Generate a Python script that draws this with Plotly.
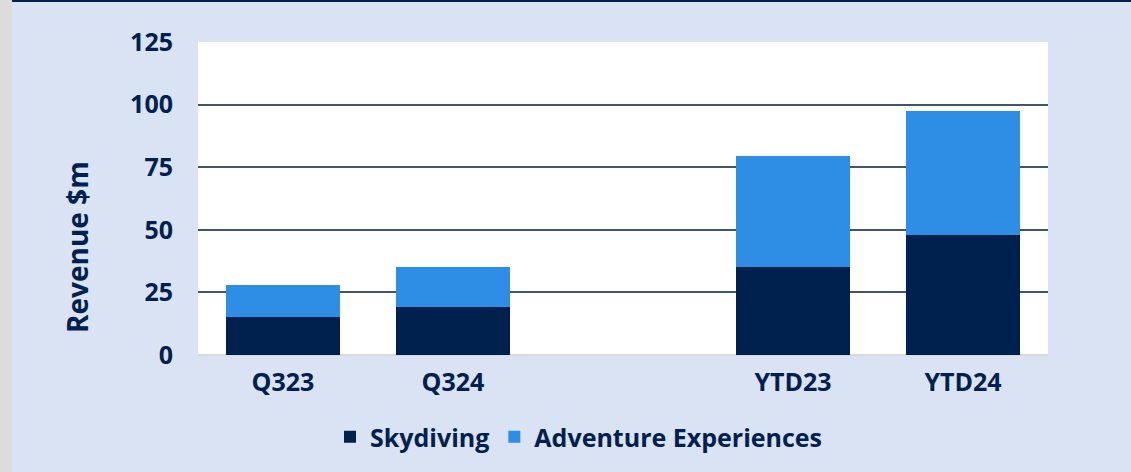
import plotly.graph_objects as go

categories = ["Q323", "Q324", " ", "YTD23", "YTD24"]
skydiving = [15, 19, None, 35, 48]
adventure = [13, 16, None, 44.5, 49.4]
y_ticks = [0, 25, 50, 75, 100, 125]

NAVY = "#00204e"
BLUE = "#2e8de4"
BG = "#dae3f3"
FONT = "Open Sans"
FS = 25

W, H = 1131, 472
ML, MR, MT, MB = 198, 83, 42, 117
PW, PH = W - ML - MR, H - MT - MB

fig = go.Figure()
fig.add_trace(go.Bar(x=categories, y=skydiving, name="Skydiving",
                     marker=dict(color=NAVY, line=dict(width=0))))
fig.add_trace(go.Bar(x=categories, y=adventure, name="Adventure Experiences",
                     marker=dict(color=BLUE, line=dict(width=0))))

def px_x(p):
    return (p - ML) / PW

def px_y(p):
    return (H - MB - p) / PH

tf = dict(family=FONT, size=FS, color=NAVY, weight=700)

fig.update_layout(
    width=W, height=H,
    barmode="stack", bargap=0.335,
    paper_bgcolor=BG, plot_bgcolor="white",
    margin=dict(l=ML, r=MR, t=MT, b=MB),
    font=tf,
    showlegend=True,
    legend=dict(orientation="h", x=px_x(330), xanchor="left",
                y=px_y(437), yanchor="middle",
                font=tf, bgcolor="rgba(0,0,0,0)", itemwidth=30,
                traceorder="normal"),
    xaxis=dict(categoryorder="array", categoryarray=categories,
               showgrid=False, showline=False, ticks="", ticklabelstandoff=10,
               tickfont=tf),
    yaxis=dict(range=[0, 125], tickvals=y_ticks, showgrid=True,
               gridcolor="#44546a", gridwidth=1.5,
               zeroline=True, zerolinecolor="#d9d9d9", zerolinewidth=2,
               showline=False, ticks="", ticklabelstandoff=24,
               tickfont=tf),
    annotations=[
        dict(text="Revenue $m", textangle=-90, showarrow=False,
             xref="paper", yref="paper", x=px_x(77), y=px_y(247),
             xanchor="center", yanchor="middle",
             font=dict(family=FONT, size=28, color=NAVY, weight=700)),
    ],
    shapes=[
        dict(type="rect", xref="paper", yref="paper", layer="below",
             x0=px_x(0), x1=px_x(12), y0=px_y(H), y1=px_y(0),
             fillcolor="#dcdcdc", line=dict(width=0)),
        dict(type="rect", xref="paper", yref="paper", layer="below",
             x0=px_x(12), x1=px_x(W), y0=px_y(2), y1=px_y(0),
             fillcolor=NAVY, line=dict(width=0)),
    ],
)

fig.write_html("out.html", config={"displayModeBar": False},
               post_script="document.body.style.margin='0';document.body.style.overflow='hidden';")
